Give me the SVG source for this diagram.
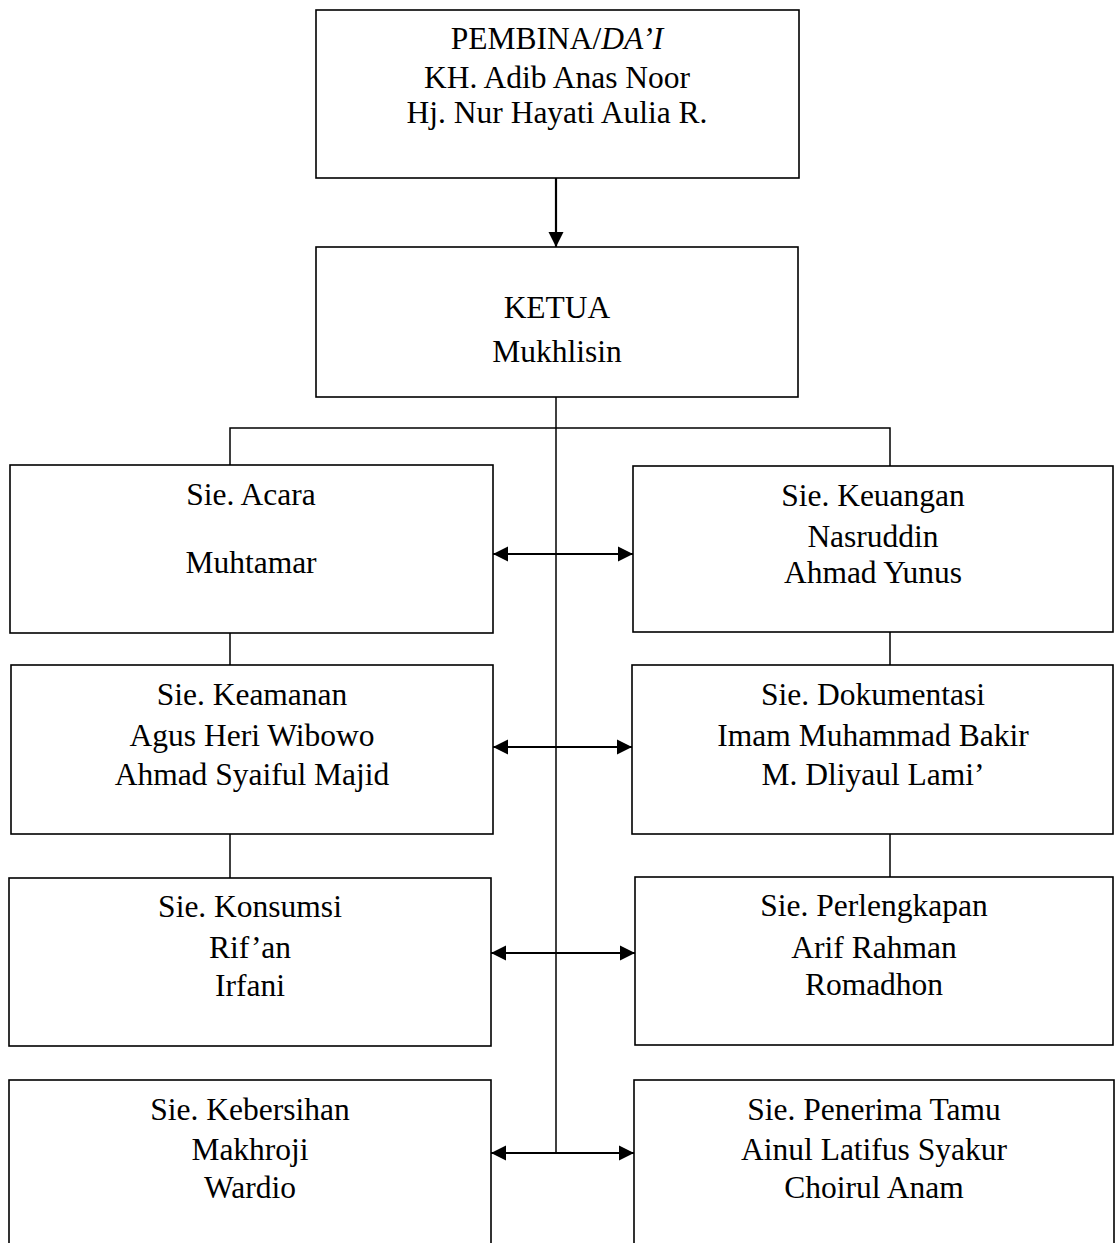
<svg xmlns="http://www.w3.org/2000/svg" width="1115" height="1243" viewBox="0 0 1115 1243">
<style>
.box{fill:#fff;stroke:#000;stroke-width:1.6}
.ln{fill:none;stroke:#000;stroke-width:1.5}
.ar{fill:none;stroke:#000;stroke-width:2.2}
text{font-family:"Liberation Serif","Times New Roman",serif;font-size:31.5px;fill:#000;text-anchor:middle}
</style>
<defs>
<marker id="ah" markerUnits="userSpaceOnUse" markerWidth="16" markerHeight="16" refX="15" refY="8" orient="auto-start-reverse" viewBox="0 0 16 16">
<path d="M0,0.5 L15,8 L0,15.5 Z" fill="#000"/>
</marker>
</defs>
<rect width="1115" height="1243" fill="#fff"/>
<g id="connectors">
<line class="ar" x1="556" y1="178" x2="556" y2="247" marker-end="url(#ah)"/>
<line class="ln" x1="556" y1="397" x2="556" y2="1153"/>
<polyline class="ln" points="230,465 230,428 890,428 890,466"/>
<line class="ln" x1="230" y1="633" x2="230" y2="665"/>
<line class="ln" x1="230" y1="834" x2="230" y2="878"/>
<line class="ln" x1="890" y1="632" x2="890" y2="665"/>
<line class="ln" x1="890" y1="834" x2="890" y2="877"/>
<line class="ar" x1="493" y1="554" x2="633" y2="554" marker-start="url(#ah)" marker-end="url(#ah)"/>
<line class="ar" x1="493" y1="747" x2="632" y2="747" marker-start="url(#ah)" marker-end="url(#ah)"/>
<line class="ar" x1="491" y1="953" x2="635" y2="953" marker-start="url(#ah)" marker-end="url(#ah)"/>
<line class="ar" x1="491" y1="1153" x2="634" y2="1153" marker-start="url(#ah)" marker-end="url(#ah)"/>
</g>
<g id="pembina">
<rect class="box" x="316" y="10" width="483" height="168"/>
<text x="557" y="49">PEMBINA/<tspan font-style="italic">DA’I</tspan></text>
<text x="557" y="88">KH. Adib Anas Noor</text>
<text x="557" y="123">Hj. Nur Hayati Aulia R.</text>
</g>
<g id="ketua">
<rect class="box" x="316" y="247" width="482" height="150"/>
<text x="557" y="318">KETUA</text>
<text x="557" y="362">Mukhlisin</text>
</g>
<g id="acara">
<rect class="box" x="10" y="465" width="483" height="168"/>
<text x="251" y="505">Sie. Acara</text>
<text x="251" y="573">Muhtamar</text>
</g>
<g id="keuangan">
<rect class="box" x="633" y="466" width="480" height="166"/>
<text x="873" y="506">Sie. Keuangan</text>
<text x="873" y="547">Nasruddin</text>
<text x="873" y="583">Ahmad Yunus</text>
</g>
<g id="keamanan">
<rect class="box" x="11" y="665" width="482" height="169"/>
<text x="252" y="705">Sie. Keamanan</text>
<text x="252" y="746">Agus Heri Wibowo</text>
<text x="252" y="785">Ahmad Syaiful Majid</text>
</g>
<g id="dokumentasi">
<rect class="box" x="632" y="665" width="481" height="169"/>
<text x="873" y="705">Sie. Dokumentasi</text>
<text x="873" y="746">Imam Muhammad Bakir</text>
<text x="873" y="785">M. Dliyaul Lami’</text>
</g>
<g id="konsumsi">
<rect class="box" x="9" y="878" width="482" height="168"/>
<text x="250" y="917">Sie. Konsumsi</text>
<text x="250" y="958">Rif’an</text>
<text x="250" y="996">Irfani</text>
</g>
<g id="perlengkapan">
<rect class="box" x="635" y="877" width="478" height="168"/>
<text x="874" y="916">Sie. Perlengkapan</text>
<text x="874" y="958">Arif Rahman</text>
<text x="874" y="995">Romadhon</text>
</g>
<g id="kebersihan">
<rect class="box" x="9" y="1080" width="482" height="180"/>
<text x="250" y="1120">Sie. Kebersihan</text>
<text x="250" y="1160">Makhroji</text>
<text x="250" y="1198">Wardio</text>
</g>
<g id="penerima">
<rect class="box" x="634" y="1080" width="480" height="180"/>
<text x="874" y="1120">Sie. Penerima Tamu</text>
<text x="874" y="1160">Ainul Latifus Syakur</text>
<text x="874" y="1198">Choirul Anam</text>
</g>
</svg>
